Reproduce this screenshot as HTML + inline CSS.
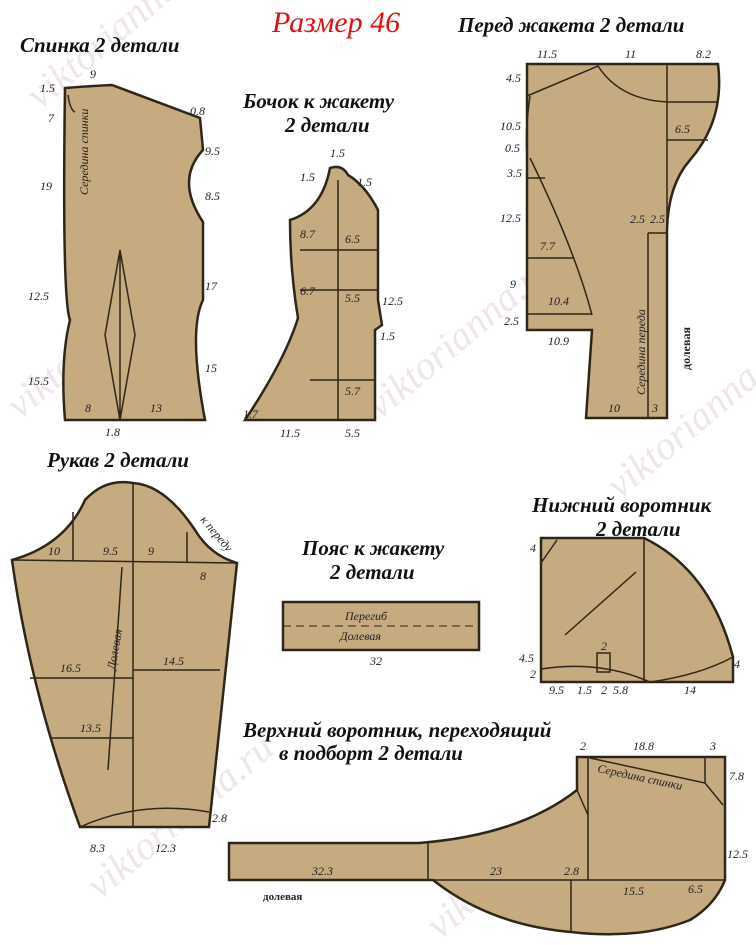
<!DOCTYPE html>
<html><head><meta charset="utf-8"><style>
body{margin:0;background:#fff}
svg{display:block}
text{font-family:"Liberation Serif",serif;font-style:italic}
.t{font-weight:bold;font-size:21px;fill:#111}
.n{font-size:12px;fill:#222}
.p{fill:#c6aa80;stroke:#2e2618;stroke-width:2.5}
.l{stroke:#2e2618;stroke-width:1.5;fill:none}
.w{font-family:"Liberation Sans",sans-serif;font-size:40px;fill:#eee6ea;font-style:italic}
</style></head><body>
<svg width="756" height="945" viewBox="0 0 756 945">
<g class="w">
<text transform="translate(40,110) rotate(-40)">viktorianna.ru</text>
<text transform="translate(20,420) rotate(-40)">viktorianna.ru</text>
<text transform="translate(380,420) rotate(-40)">viktorianna.ru</text>
<text transform="translate(100,900) rotate(-40)">viktorianna.ru</text>
<text transform="translate(440,940) rotate(-40)">viktorianna.ru</text>
<text transform="translate(620,500) rotate(-40)">viktorianna.ru</text>
</g>
<text x="272" y="32" style="font-size:30px;fill:#e01010">Размер 46</text>
<text x="20" y="52" class="t">Спинка 2 детали</text>
<text x="458" y="32" class="t">Перед жакета 2 детали</text>
<text x="243" y="108" class="t">Бочок к жакету</text>
<text x="285" y="132" class="t">2 детали</text>
<text x="47" y="467" class="t">Рукав 2 детали</text>
<text x="302" y="555" class="t">Пояс к жакету</text>
<text x="330" y="579" class="t">2 детали</text>
<text x="532" y="512" class="t">Нижний воротник</text>
<text x="596" y="536" class="t">2 детали</text>
<text x="243" y="737" class="t">Верхний воротник, переходящий</text>
<text x="279" y="760" class="t">в подборт 2 детали</text>

<!-- back -->
<path class="p" d="M65,88 Q90,86 112,85 L200,118 L203,150 Q175,180 203,222 L203,300 Q188,330 205,420 L65,420 Q60,360 70,320 Q62,300 65,88Z"/>
<path class="l" d="M68,95 Q70,110 75,112 M120,250 L105,335 L120,420 L135,335Z M120,250 L120,420"/>
<!-- side -->
<path class="p" d="M330,168 Q342,164 348,175 Q365,185 378,210 L378,300 L382,325 L375,330 L375,420 L245,420 Q285,360 298,318 Q290,270 290,220 Q322,210 330,168Z"/>
<path class="l" d="M338,180 L338,420 M300,250 L378,250 M300,290 L378,290 M310,380 L375,380"/>
<!-- front -->
<path class="p" d="M527,64 L718,64 Q725,120 690,160 Q668,185 667,230 L667,418 L586,418 L592,330 L527,330Z"/>
<path class="l" d="M527,96 L598,66 Q620,100 668,102 L718,102 M667,64 L667,230 M667,140 L708,140 M527,156 Q525,130 530,96 M530,158 Q575,250 592,315 M527,178 L545,178 M527,258 L573,258 M527,314 L592,314 M648,233 L648,418 M648,233 L667,233"/>
<!-- sleeve -->
<path class="p" d="M12,560 Q65,545 85,500 Q105,478 133,483 Q165,485 195,530 Q210,555 237,563 L209,827 L80,827 Q30,690 12,560Z"/>
<path class="l" d="M12,560 L237,563 M133,483 L133,827 M73,512 L73,560 M187,532 L187,563 M133,670 L220,670 M30,678 L133,678 M50,738 L133,738 M80,827 Q140,800 209,812 M122,567 L108,770"/>
<!-- belt -->
<rect class="p" x="283" y="602" width="196" height="48"/>
<line x1="283" y1="626" x2="479" y2="626" stroke="#2e2618" stroke-dasharray="8,5"/>
<!-- lower collar -->
<path class="p" d="M541,538 L644,538 Q710,570 733,657 L733,682 L541,682Z"/>
<path class="l" d="M644,538 L644,682 M541,669 Q600,660 650,682 Q700,675 733,657 M541,563 L557,540 M565,635 L636,572 M597,653 L610,653 L610,672 L597,672Z"/>
<!-- upper collar -->
<path class="p" d="M229,843 L419,843 Q520,835 577,790 L577,757 L725,757 L725,880 Q715,905 690,920 Q640,940 571,932 Q490,925 433,880 L229,880Z"/>
<path class="l" d="M428,843 L428,880 M588,780 L588,880 M571,880 L571,932 M229,880 L725,880 M590,758 L705,783 L723,805 M705,757 L705,783 M577,790 L588,815 M588,758 L588,780"/>

<g class="n">
<text x="40" y="92">1.5</text><text x="90" y="78">9</text><text x="190" y="115">0.8</text>
<text x="48" y="122">7</text><text x="40" y="190">19</text><text x="205" y="155">9.5</text><text x="205" y="200">8.5</text>
<text x="28" y="300">12.5</text><text x="205" y="290">17</text><text x="28" y="385">15.5</text><text x="205" y="372">15</text>
<text x="105" y="436">1.8</text><text x="85" y="412">8</text><text x="150" y="412">13</text><text x="88" y="195" transform="rotate(-90 88 195)">Середина спинки</text>
<text x="330" y="157">1.5</text><text x="300" y="181">1.5</text><text x="357" y="186">1.5</text>
<text x="300" y="238">8.7</text><text x="345" y="243">6.5</text><text x="300" y="295">6.7</text><text x="345" y="302">5.5</text><text x="382" y="305">12.5</text><text x="380" y="340">1.5</text>
<text x="345" y="395">5.7</text><text x="243" y="418">1.7</text><text x="280" y="437">11.5</text><text x="345" y="437">5.5</text>
<text x="537" y="58">11.5</text><text x="625" y="58">11</text><text x="696" y="58">8.2</text><text x="506" y="82">4.5</text><text x="500" y="130">10.5</text><text x="505" y="152">0.5</text>
<text x="507" y="177">3.5</text><text x="500" y="222">12.5</text><text x="510" y="288">9</text><text x="504" y="325">2.5</text><text x="548" y="345">10.9</text>
<text x="675" y="133">6.5</text><text x="540" y="250">7.7</text><text x="548" y="305">10.4</text><text x="630" y="223">2.5</text><text x="650" y="223">2.5</text><text x="608" y="412">10</text><text x="652" y="412">3</text>
<text x="690" y="370" transform="rotate(-90 690 370)" style="font-weight:bold;font-style:normal">долевая</text>
<text x="645" y="395" transform="rotate(-90 645 395)">Середина переда</text>
<text x="48" y="555">10</text><text x="103" y="555">9.5</text><text x="148" y="555">9</text><text x="200" y="580">8</text>
<text x="60" y="672">16.5</text><text x="163" y="665">14.5</text><text x="80" y="732">13.5</text><text x="90" y="852">8.3</text><text x="155" y="852">12.3</text><text x="212" y="822">2.8</text>
<text x="200" y="520" transform="rotate(50 200 520)">к переду</text>
<text x="115" y="670" transform="rotate(-80 115 670)">Долевая</text>
<text x="345" y="620">Перегиб</text><text x="340" y="640">Долевая</text><text x="370" y="665">32</text>
<text x="530" y="552">4</text><text x="519" y="662">4.5</text><text x="530" y="678">2</text><text x="549" y="694">9.5</text><text x="577" y="694">1.5</text><text x="601" y="694">2</text><text x="613" y="694">5.8</text><text x="684" y="694">14</text><text x="734" y="668">4</text><text x="601" y="650">2</text>
<text x="580" y="750">2</text><text x="633" y="750">18.8</text><text x="710" y="750">3</text><text x="729" y="780">7.8</text><text x="727" y="858">12.5</text><text x="688" y="893">6.5</text>
<text x="312" y="875">32.3</text><text x="490" y="875">23</text><text x="564" y="875">2.8</text><text x="623" y="895">15.5</text><text x="263" y="900" style="font-weight:bold;font-style:normal;font-size:11px">долевая</text>
<text x="597" y="772" transform="rotate(12 597 772)">Середина спинки</text>
</g>
</svg>
</body></html>
